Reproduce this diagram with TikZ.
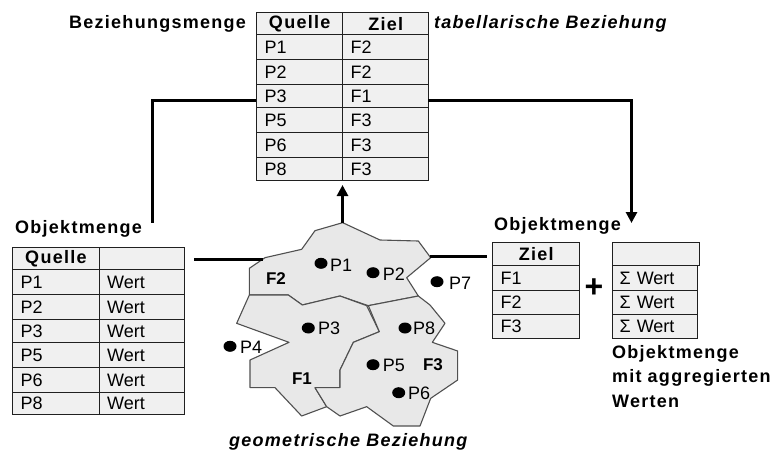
\documentclass[tikz,border=0pt]{standalone}
\usepackage{fontspec}
\setmainfont{Liberation Sans}
\newfontfamily\lblfont[LetterSpace=7]{Liberation Sans}
\usetikzlibrary{arrows.meta}
\definecolor{cellfill}{HTML}{F0F0F0}
\definecolor{regfill}{HTML}{E8E8E8}
\definecolor{regline}{HTML}{505050}
\definecolor{cellline}{HTML}{202020}
\tikzset{
  cellbox/.style={draw=cellline,fill=cellfill,line width=1.3pt,anchor=north west,inner ysep=0pt,inner xsep=8pt,font=\fontsize{18}{18}\selectfont},
  headbox/.style={font=\lblfont\bfseries\fontsize{18}{18}\selectfont},
  title/.style={font=\lblfont\bfseries\fontsize{18}{24.5}\selectfont,anchor=west,inner sep=0pt},
  ital/.style={font=\lblfont\bfseries\itshape\fontsize{18}{18}\selectfont,anchor=west,inner sep=0pt},
  region/.style={fill=regfill,draw=regline,line width=1.1pt,line join=round},
  thick conn/.style={line width=3pt,black},
  ptdot/.style={fill=black},
  ptlabel/.style={font=\fontsize{18}{18}\selectfont,anchor=west,inner sep=0pt},
  regname/.style={font=\bfseries\fontsize{17}{18}\selectfont,inner sep=0pt}
}
% name, x, ytop, ybottom, width, alignment, extra style, text
\newcommand{\tcell}[8]{%
  \pgfmathsetmacro{\cellh}{#4-#3}%
  \pgfmathsetmacro{\cellw}{#5-16}%
  \node[cellbox,minimum height=\cellh pt,text width=\cellw pt,align=#6,#7] (#1) at (#2,#3) {#8};%
}
\newcommand{\ptmark}[6]{%
  \fill[ptdot] (#2,#3) ellipse (6.5pt and 5.5pt);%
  \node[ptlabel] (#1) at (#4,#5) {#6};%
}
\begin{document}
\begin{tikzpicture}[x=1pt,y=-1pt]
\useasboundingbox (0,0) rectangle (778,453);
\fill[white] (0,0) rectangle (778,453);

% top table
\tcell{tq0}{256}{12}{34}{86}{center}{headbox}{Quelle}
\tcell{tz0}{342}{12}{34}{86}{center}{headbox}{Ziel}
\tcell{tq1}{256}{34}{59}{86}{left}{}{P1}
\tcell{tz1}{342}{34}{59}{86}{left}{}{F2}
\tcell{tq2}{256}{59}{84}{86}{left}{}{P2}
\tcell{tz2}{342}{59}{84}{86}{left}{}{F2}
\tcell{tq3}{256}{84}{107}{86}{left}{}{P3}
\tcell{tz3}{342}{84}{107}{86}{left}{}{F1}
\tcell{tq4}{256}{107}{132}{86}{left}{}{P5}
\tcell{tz4}{342}{107}{132}{86}{left}{}{F3}
\tcell{tq5}{256}{132}{157}{86}{left}{}{P6}
\tcell{tz5}{342}{132}{157}{86}{left}{}{F3}
\tcell{tq6}{256}{157}{180}{86}{left}{}{P8}
\tcell{tz6}{342}{157}{180}{86}{left}{}{F3}

% left table
\tcell{lq0}{12}{247}{269}{86.5}{center}{headbox}{Quelle}
\tcell{lw0}{98.5}{247}{269}{85.5}{left}{}{}
\tcell{lq1}{12}{269}{294}{86.5}{left}{}{P1}
\tcell{lw1}{98.5}{269}{294}{85.5}{left}{}{Wert}
\tcell{lq2}{12}{294}{319}{86.5}{left}{}{P2}
\tcell{lw2}{98.5}{294}{319}{85.5}{left}{}{Wert}
\tcell{lq3}{12}{319}{342}{86.5}{left}{}{P3}
\tcell{lw3}{98.5}{319}{342}{85.5}{left}{}{Wert}
\tcell{lq4}{12}{342}{367}{86.5}{left}{}{P5}
\tcell{lw4}{98.5}{342}{367}{85.5}{left}{}{Wert}
\tcell{lq5}{12}{367}{392}{86.5}{left}{}{P6}
\tcell{lw5}{98.5}{367}{392}{85.5}{left}{}{Wert}
\tcell{lq6}{12}{392}{414}{86.5}{left}{}{P8}
\tcell{lw6}{98.5}{392}{414}{85.5}{left}{}{Wert}

% right tables
\tcell{rz0}{492}{242}{265}{87}{center}{headbox}{Ziel}
\tcell{rz1}{492}{265}{290}{87}{left}{}{F1}
\tcell{rz2}{492}{290}{314}{87}{left}{}{F2}
\tcell{rz3}{492}{314}{338}{87}{left}{}{F3}
\tcell{rs0}{612}{242}{265}{87}{left}{}{}
\tcell{rs1}{612}{265}{290}{87}{left}{inner xsep=7pt}{Σ Wert}
\tcell{rs2}{612}{290}{314}{87}{left}{inner xsep=7pt}{Σ Wert}
\tcell{rs3}{612}{314}{338}{87}{left}{inner xsep=7pt}{Σ Wert}

% regions
\begin{scope}[shift={(190,210)},x=0.33333pt,y=-0.33333pt]
\draw[region] (178,175)--(225,143)--(335,118)--(375,62)--(458,38)--(570,90)--(685,93)--(722,143)--(650,203)--(685,258)--(535,287)--(450,258)--(337,285)--(295,255)--(178,255)--cycle;
\draw[region] (178,255)--(295,255)--(337,285)--(450,258)--(530,287)--(568,365)--(490,397)--(450,480)--(450,533)--(375,533)--(410,590)--(335,618)--(255,533)--(180,533)--(180,450)--(297,397)--(140,340)--cycle;
\draw[region] (535,287)--(685,258)--(720,285)--(765,340)--(727,397)--(803,423)--(803,510)--(722,565)--(690,648)--(610,648)--(530,590)--(450,618)--(410,590)--(375,533)--(450,533)--(450,480)--(490,397)--(568,365)--cycle;
\end{scope}

% connector ends
\coordinate (tl) at (256,100);
\coordinate (tr) at (428,100);
\coordinate (ol) at (152.5,223);
\coordinate (or) at (631.5,223);
\coordinate (ptop) at (342.5,222.5);
\coordinate (ttip) at (342.5,185);
\coordinate (wl) at (194,259);
\coordinate (wlr) at (263,259);
\coordinate (wr) at (430,256);
\coordinate (wrr) at (487,256);

\draw[thick conn] (tl) -| (ol);
\draw[thick conn,-{Triangle[length=11pt,width=11pt]}] (tr) -| (or);
\draw[thick conn,-{Triangle[length=11pt,width=11pt]}] (ptop) -- (ttip);
\draw[thick conn] (wl) -- (wlr);
\draw[thick conn] (wr) -- (wrr);

% points
\ptmark{p1}{321}{263.3}{330}{265}{P1}
\ptmark{p2}{373}{272.7}{382.7}{274}{P2}
\ptmark{p7}{437}{281.7}{449}{283}{P7}
\ptmark{p3}{308.3}{328}{318}{328}{P3}
\ptmark{p8}{405}{328}{413}{328}{P8}
\ptmark{p4}{230}{346.3}{240}{347}{P4}
\ptmark{p5}{373}{364.7}{382.7}{365}{P5}
\ptmark{p6}{398.7}{392.7}{408}{393}{P6}

\node[regname] (f2) at (276,279) {F2};
\node[regname] (f1) at (302,379) {F1};
\node[regname] (f3) at (433,365) {F3};

% labels
\node[title] (lbz) at (69,24) {Beziehungsmenge};
\node[ital] (ltab) at (434,24) {tabellarische Beziehung};
\node[title] (lob1) at (15,229) {Objektmenge};
\node[title] (lob2) at (494,226) {Objektmenge};
\node[title,text width=170pt,align=left,anchor=north west] (lob3) at (612,345) {Objektmenge\\mit aggregierten\\Werten};
\node[ital] (lgeo) at (229,442) {geometrische Beziehung};
\node[font=\bfseries\fontsize{32}{32}\selectfont,inner sep=0pt] (plus) at (594,288) {+};
\end{tikzpicture}
\end{document}
